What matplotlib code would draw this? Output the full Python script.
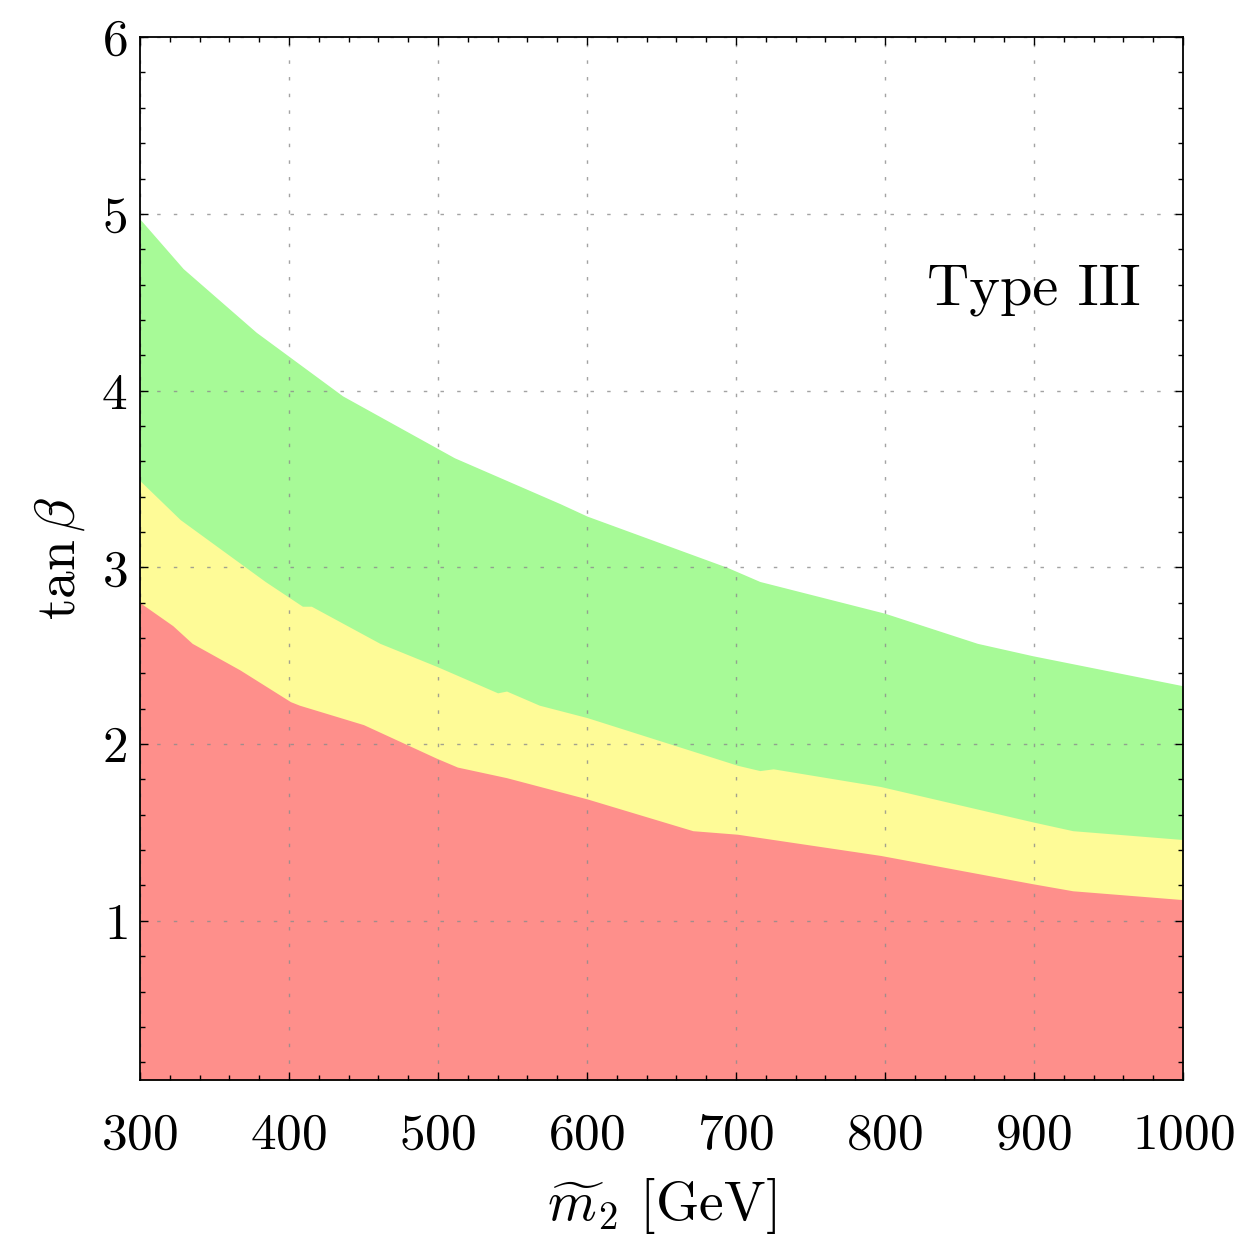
import matplotlib
matplotlib.use("Agg")
import matplotlib.pyplot as plt
from matplotlib.ticker import MultipleLocator

plt.rcParams['font.family'] = 'serif'
plt.rcParams['font.serif'] = ['cmr10']
plt.rcParams['mathtext.fontset'] = 'cm'
plt.rcParams['axes.formatter.use_mathtext'] = True

# upper edge of the green band
x_green = [300, 329, 378, 436, 511, 582, 600, 694, 716, 800, 862, 899, 1000]
y_green = [4.97, 4.69, 4.33, 3.97, 3.62, 3.36, 3.29, 3.00, 2.92, 2.74, 2.57, 2.50, 2.33]

# upper edge of the yellow band
x_yellow = [300, 327, 384, 409, 415, 461, 499, 540, 546, 568, 600, 701, 716, 725, 797, 899, 926, 1000]
y_yellow = [3.49, 3.27, 2.92, 2.78, 2.78, 2.57, 2.44, 2.29, 2.30, 2.22, 2.15, 1.88, 1.85, 1.86, 1.76, 1.56, 1.51, 1.46]

# upper edge of the red band
x_red = [300, 322, 335, 367, 401, 407, 450, 499, 513, 546, 600, 671, 701, 797, 899, 926, 1000]
y_red = [2.80, 2.67, 2.57, 2.42, 2.24, 2.22, 2.11, 1.92, 1.87, 1.81, 1.69, 1.51, 1.49, 1.37, 1.21, 1.17, 1.12]

xticks = [300, 400, 500, 600, 700, 800, 900, 1000]
yticks = [1, 2, 3, 4, 5, 6]
ymin = 0.1

fig = plt.figure(figsize=(12.5, 12.37), dpi=100)
ax = fig.add_axes([0.112, 0.127, 0.8344, 0.843])

ax.fill_between(x_green, y_green, ymin, color='#a7fa97', lw=0)
ax.fill_between(x_yellow, y_yellow, ymin, color='#fefb97', lw=0)
ax.fill_between(x_red, y_red, ymin, color='#fe8f8b', lw=0)

ax.set_xlim(300, 1000)
ax.set_ylim(ymin, 6)
ax.set_xticks(xticks)
ax.set_yticks(yticks)
ax.xaxis.set_minor_locator(MultipleLocator(20))
ax.yaxis.set_minor_locator(MultipleLocator(0.2))

ax.grid(True, which='major', color='#8c8c8c', lw=1.0, dashes=(2.5, 9.5), alpha=0.8)
ax.tick_params(which='both', direction='in', top=True, right=True, width=1.0)
ax.tick_params(which='major', length=6)
ax.tick_params(which='minor', length=3.5)
ax.tick_params(axis='x', which='major', labelsize=37, pad=24)
ax.tick_params(axis='y', which='major', labelsize=37, pad=9)
for s in ax.spines.values():
    s.set_linewidth(1.3)

ax.set_xlabel(r'$\widetilde{m}_2$ [GeV]', fontsize=40, labelpad=12)
ax.set_ylabel(r'$\tan\beta$', fontsize=40, labelpad=10)

ax.text(900, 4.57, 'Type III', fontsize=42, ha='center', va='center')

fig.savefig('out.png', dpi=100)
